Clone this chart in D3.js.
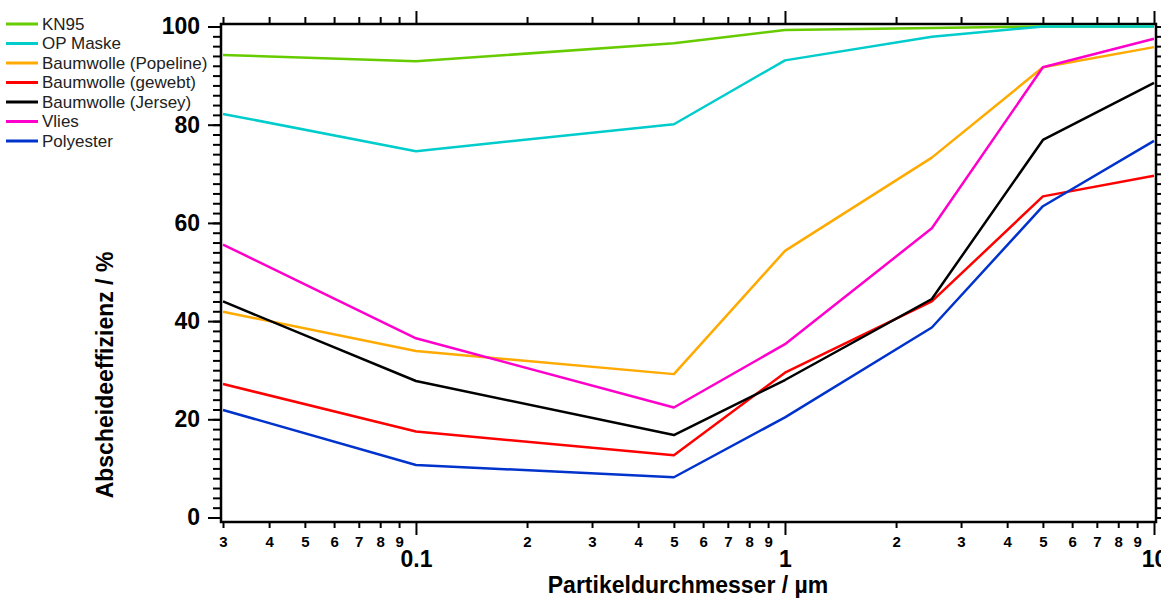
<!DOCTYPE html>
<html>
<head>
<meta charset="utf-8">
<script src="https://cdn.jsdelivr.net/npm/d3@7"></script>
<style>
  body { margin: 0; background: #fff; }
  svg { display: block; font-family: "Liberation Sans", Arial, sans-serif; }
</style>
</head>
<body>
<div id="chart"></div>
<script>
// Partikeldurchmesser (µm)
const durchmesser = [0.03, 0.1, 0.5, 1, 2.5, 5, 10];

// Abscheideeffizienz (%) pro Material
const kn95      = [94.2, 92.9, 96.6, 99.3, 99.7, 100, 100];
const opMaske   = [82.2, 74.6, 80.1, 93.1, 97.9, 100, 100];
const popeline  = [41.9, 33.9, 29.2, 54.3, 73.3, 91.7, 95.8];
const gewebt    = [27.2, 17.5, 12.7, 29.5, 44.0, 65.4, 69.6];
const jersey    = [44.0, 27.8, 16.8, 28.0, 44.5, 76.9, 88.5];
const vlies     = [55.6, 36.5, 22.4, 35.3, 58.9, 91.7, 97.5];
const polyester = [21.9, 10.7, 8.2, 20.4, 38.7, 63.4, 76.7];

const serienNamen = ["KN95", "OP Maske", "Baumwolle (Popeline)", "Baumwolle (gewebt)",
                     "Baumwolle (Jersey)", "Vlies", "Polyester"];
const serienWerte = [kn95, opMaske, popeline, gewebt, jersey, vlies, polyester];
const farben = ["#66cc00", "#00cccc", "#ffaa00", "#ff0000", "#000000", "#ff00cc", "#0033cc"];

const majorTicks = [0.1, 1, 10];
const minorTicks = [0.03, 0.04, 0.05, 0.06, 0.07, 0.08, 0.09,
                    0.2, 0.3, 0.4, 0.5, 0.6, 0.7, 0.8, 0.9,
                    2, 3, 4, 5, 6, 7, 8, 9];

document.addEventListener("DOMContentLoaded", () => {
    const width = 1161;
    const height = 598;
    const frame = { left: 221, right: 1156, top: 24, bottom: 522 };

    const svg = d3.select("#chart")
        .append("svg")
        .attr("width", width)
        .attr("height", height);

    // Echelles
    const x = d3.scaleLog()
        .domain([0.03, 10])
        .range([223, 1154]);

    const y = d3.scaleLinear()
        .domain([0, 100])
        .range([517.5, 26.5]);

    const yMinor = d3.range(0, 101, 2);
    const yMajor = d3.range(0, 101, 20);

    // Axe X bas : petites graduations
    const gxMinor = svg.append("g")
        .attr("transform", `translate(0,${frame.bottom})`)
        .call(d3.axisBottom(x).tickValues(minorTicks).tickSize(6).tickPadding(8)
            .tickFormat(d => String(Math.round(d / Math.pow(10, Math.floor(Math.log10(d) + 1e-9))))));
    gxMinor.selectAll("text").style("font-size", "15px").style("font-weight", "bold").attr("fill", "#000");

    // Axe X bas : grandes graduations
    const gxMajor = svg.append("g")
        .attr("transform", `translate(0,${frame.bottom})`)
        .call(d3.axisBottom(x).tickValues(majorTicks).tickSize(13).tickPadding(16)
            .tickFormat(d => String(d)));
    gxMajor.selectAll("text").style("font-size", "23px").style("font-weight", "bold").attr("fill", "#000");

    // Axe X haut
    svg.append("g")
        .attr("transform", `translate(0,${frame.top})`)
        .call(d3.axisTop(x).tickValues(minorTicks).tickSize(7).tickFormat(""));
    svg.append("g")
        .attr("transform", `translate(0,${frame.top})`)
        .call(d3.axisTop(x).tickValues(majorTicks).tickSize(13).tickFormat(""));

    // Axe Y gauche
    svg.append("g")
        .attr("transform", `translate(${frame.left},0)`)
        .call(d3.axisLeft(y).tickValues(yMinor).tickSize(8).tickFormat(""));
    const gyMajor = svg.append("g")
        .attr("transform", `translate(${frame.left},0)`)
        .call(d3.axisLeft(y).tickValues(yMajor).tickSize(13).tickPadding(8));
    gyMajor.selectAll("text").style("font-size", "23px").style("font-weight", "bold").attr("fill", "#000");

    // Axe Y droite
    svg.append("g")
        .attr("transform", `translate(${frame.right},0)`)
        .call(d3.axisRight(y).tickValues(yMinor).tickSize(6).tickFormat(""));

    svg.selectAll(".domain").remove();
    svg.selectAll(".tick line").attr("stroke", "#000").attr("stroke-width", 2);

    // Cadre
    svg.append("rect")
        .attr("x", frame.left)
        .attr("y", frame.top)
        .attr("width", frame.right - frame.left)
        .attr("height", frame.bottom - frame.top)
        .attr("fill", "none")
        .attr("stroke", "#000")
        .attr("stroke-width", 2.5);

    // Courbes
    const line = d3.line()
        .x((d, i) => x(durchmesser[i]))
        .y(d => y(d));

    svg.selectAll("path.serie")
        .data(serienWerte)
        .join("path")
        .attr("class", "serie")
        .attr("d", line)
        .attr("fill", "none")
        .attr("stroke", (d, i) => farben[i])
        .attr("stroke-width", 2.5)
        .attr("stroke-linejoin", "round");

    // Légende
    const legend = svg.append("g");
    serienNamen.forEach((name, i) => {
        const ly = 24 + i * 19.5;
        legend.append("line")
            .attr("x1", 6).attr("x2", 38)
            .attr("y1", ly).attr("y2", ly)
            .attr("stroke", farben[i])
            .attr("stroke-width", 3);
        legend.append("text")
            .attr("x", 42)
            .attr("y", ly)
            .attr("dy", "0.35em")
            .style("font-size", "17px")
            .attr("fill", "#222")
            .text(name);
    });

    // Titres des axes
    svg.append("text")
        .attr("x", 688)
        .attr("y", 585)
        .attr("dy", "0.35em")
        .attr("text-anchor", "middle")
        .style("font-size", "23px")
        .style("font-weight", "bold")
        .text("Partikeldurchmesser / µm");

    svg.append("text")
        .attr("transform", "translate(105,375) rotate(-90)")
        .attr("dy", "0.35em")
        .attr("text-anchor", "middle")
        .style("font-size", "23px")
        .style("font-weight", "bold")
        .text("Abscheideeffizienz / %");
});
</script>
</body>
</html>
